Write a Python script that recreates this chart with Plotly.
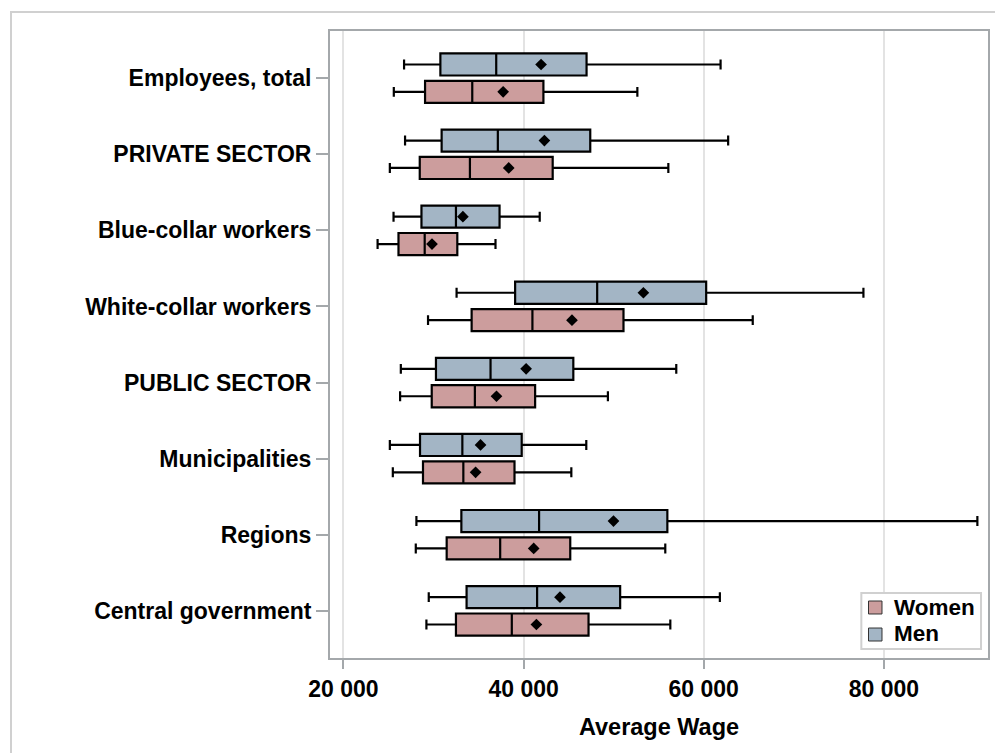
import plotly.graph_objects as go

# Average wage distribution by sector and gender
categories = [
    "Employees, total",
    "PRIVATE SECTOR",
    "Blue-collar workers",
    "White-collar workers",
    "PUBLIC SECTOR",
    "Municipalities",
    "Regions",
    "Central government",
]

men_low = [26730, 26840, 25560, 32560, 26370, 25150, 28100, 29470]
men_q1 = [30760, 30900, 28660, 39060, 30270, 28500, 33090, 33670]
men_median = [36960, 37140, 32490, 48170, 36330, 33200, 41720, 41500]
men_mean = [41940, 42310, 33260, 53300, 40280, 35220, 49980, 44040]
men_q3 = [46990, 47400, 37330, 60270, 45520, 39790, 55960, 50720]
men_high = [61870, 62710, 41790, 77730, 56950, 46960, 90380, 61790]

women_low = [25590, 25150, 23790, 29390, 26290, 25480, 28030, 29210]
women_q1 = [29060, 28470, 26110, 34230, 29800, 28830, 31460, 32490]
women_median = [34300, 34040, 29020, 40980, 34590, 33310, 37400, 38690]
women_mean = [37730, 38350, 29830, 45370, 36990, 34670, 41120, 41420]
women_q3 = [42200, 43230, 32640, 51090, 41280, 38990, 45180, 47210]
women_high = [52630, 56070, 36880, 65440, 49360, 45300, 55730, 56290]

x_tick_vals = [20000, 40000, 60000, 80000]
x_tick_text = ["20 000", "40 000", "60 000", "80 000"]

legend_names = ["Women", "Men"]

MEN_FILL = "#a3b5c5"
WOMEN_FILL = "#cc9d9d"
FONT = "Liberation Sans"
OFFSET = 0.18
BOX_W = 0.29

pos = list(range(len(categories)))
men_pos = [p - OFFSET for p in pos]
women_pos = [p + OFFSET for p in pos]

fig = go.Figure()


def add_group(name, ypos, low, q1, med, q3, high, mean, fill):
    fig.add_trace(go.Box(
        name=name,
        orientation="h",
        y=ypos,
        q1=q1, median=med, q3=q3,
        lowerfence=low, upperfence=high,
        boxpoints=False,
        width=BOX_W,
        whiskerwidth=0.45,
        fillcolor=fill,
        line=dict(color="#000000", width=2.2),
        showlegend=False,
        hoverinfo="skip",
    ))
    fig.add_trace(go.Scatter(
        x=mean, y=ypos,
        mode="markers",
        marker=dict(symbol="diamond", size=9, color="#000000"),
        showlegend=False,
        hoverinfo="skip",
    ))


add_group(legend_names[0], women_pos, women_low, women_q1, women_median, women_q3,
          women_high, women_mean, WOMEN_FILL)
add_group(legend_names[1], men_pos, men_low, men_q1, men_median, men_q3,
          men_high, men_mean, MEN_FILL)

# light outer frame around the whole graph
fig.add_shape(
    type="rect", xref="paper", yref="paper",
    x0=-0.4848, x1=1.2, y0=-0.3, y1=1.0303,
    line=dict(color="#d0d0d0", width=2), fillcolor="rgba(0,0,0,0)",
    layer="below",
)

# compact legend box in the lower-right corner of the plot area
fig.add_shape(
    type="rect", xref="paper", yref="paper",
    x0=0.8075, x1=0.9894, y0=0.0144, y1=0.1037,
    line=dict(color="#d0d0d0", width=2), fillcolor="white",
    layer="above",
)
swatches = [(WOMEN_FILL, 0.0702, 0.0909, 0.0813), (MEN_FILL, 0.0271, 0.0478, 0.0383)]
for name, (fill, y0, y1, yc) in zip(legend_names, swatches):
    fig.add_shape(
        type="rect", xref="paper", yref="paper",
        x0=0.8184, x1=0.8389, y0=y0, y1=y1,
        line=dict(color="#333333", width=1), fillcolor=fill,
        layer="above",
    )
    fig.add_annotation(
        xref="paper", yref="paper", x=0.8545, y=yc,
        xanchor="left", yanchor="middle", showarrow=False,
        text=name, font=dict(family=FONT, size=22.5, weight="bold", color="#000000"),
    )

fig.update_layout(
    width=995, height=753,
    margin=dict(l=330, r=5, t=31, b=95),
    paper_bgcolor="white", plot_bgcolor="white",
    font=dict(family=FONT, color="#000000"),
    showlegend=False,
)

fig.update_xaxes(
    range=[18506, 91560],
    tickvals=x_tick_vals, ticktext=x_tick_text,
    tickfont=dict(family=FONT, size=23, weight="bold"),
    ticks="outside", ticklen=9, tickwidth=2, tickcolor="#a4a8ab",
    showgrid=True, gridcolor="#e3e3e3", gridwidth=2,
    showline=True, linecolor="#a4a8ab", linewidth=2, mirror=True,
    zeroline=False,
    title=dict(text="Average Wage", font=dict(family=FONT, size=23.5, weight="bold"), standoff=18),
)

fig.update_yaxes(
    range=[7.62, -0.62],
    tickvals=pos, ticktext=categories,
    tickfont=dict(family=FONT, size=23, weight="bold"),
    ticks="outside", ticklen=12, tickwidth=2, tickcolor="#a4a8ab",
    showgrid=False,
    showline=True, linecolor="#a4a8ab", linewidth=2, mirror=True,
    zeroline=False,
)

fig.write_html("out.html")
